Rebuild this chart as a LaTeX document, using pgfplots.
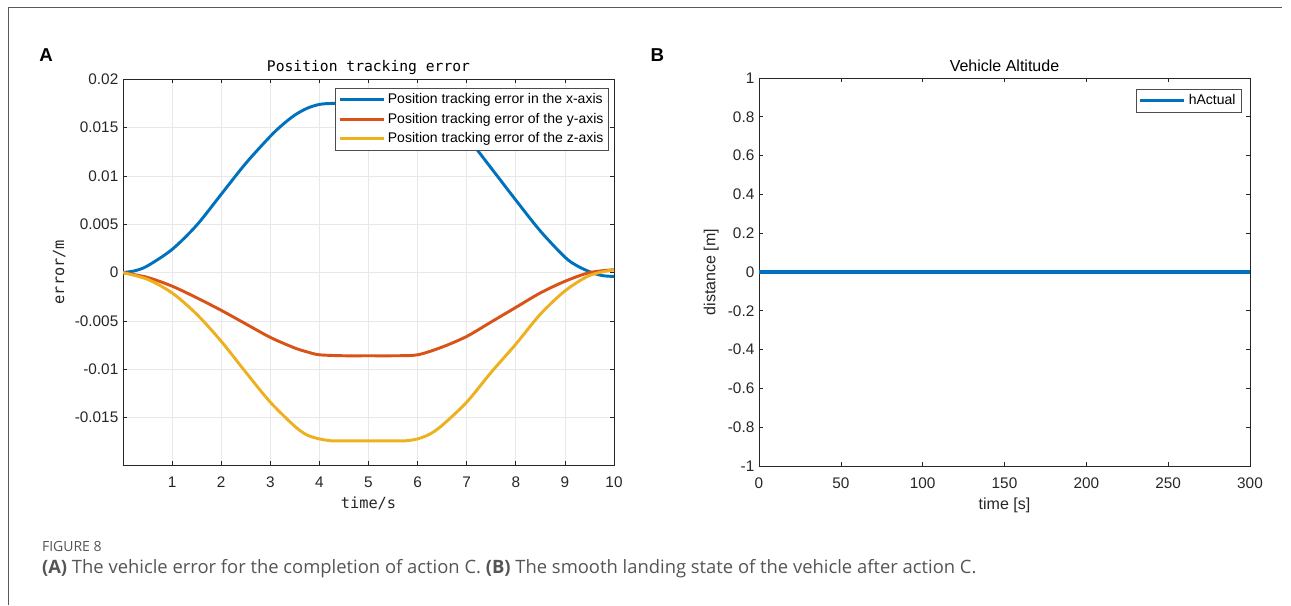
\documentclass[border=0pt]{standalone}
\usepackage{pgfplots}
\pgfplotsset{compat=1.18}
\usepackage{fontspec}
\setmainfont{Liberation Sans}
\newfontfamily\monofont{DejaVu Sans Mono}
\newfontfamily\capfont{Open Sans}
\definecolor{mblue}{rgb}{0,0.447,0.741}
\definecolor{mred}{rgb}{0.85,0.325,0.098}
\definecolor{myellow}{rgb}{0.929,0.694,0.125}
\definecolor{axgray}{rgb}{0.15,0.15,0.15}
\definecolor{capgray}{HTML}{555555}
\begin{document}
\begin{tikzpicture}
\path (0,0) rectangle (968.25pt,-453.75pt);
\draw[gray!70!black, line width=0.7pt] (6pt,-453.75pt) -- (6pt,-5.25pt) -- (961.5pt,-5.25pt);
\node[font=\fontsize{14}{16}\selectfont\bfseries] at (34.5pt,-41.25pt) {A};
\node[font=\fontsize{14}{16}\selectfont\bfseries] at (493pt,-41.25pt) {B};
\node[anchor=west, text=capgray, font=\capfont\fontsize{10.5}{12}\selectfont] at (28pt,-409.5pt) {FIGURE 8};
\node[anchor=west, text=capgray, font=\capfont\fontsize{13.8}{16}\selectfont] at (28pt,-426.5pt) {\textbf{(A)} The vehicle error for the completion of action C. \textbf{(B)} The smooth landing state of the vehicle after action C.};

\pgfplotsset{matstyle/.style={
  scale only axis,
  anchor=south west,
  axis line style={axgray, line width=0.5pt},
  tick align=inside,
  major tick length=3pt,
  tick style={axgray, line width=0.5pt},
  tick label style={font=\fontsize{11.5}{13}\selectfont, text=axgray},
  xticklabel style={yshift=-5.5pt},
  /pgf/number format/assume math mode=true,
  scaled x ticks=false, scaled y ticks=false,
  legend cell align=left,
}}

\begin{axis}[matstyle,
  at={(92.25pt,-348.75pt)}, width=368.25pt, height=289.3pt,
  xmin=0, xmax=10, ymin=-0.0199, ymax=0.02,
  xtick={1,2,3,4,5,6,7,8,9,10},
  xticklabels={1,2,3,4,5,6,7,8,9,10},
  ytick={-0.015,-0.01,-0.005,0,0.005,0.01,0.015,0.02},
  yticklabels={-0.015,-0.01,-0.005,0,0.005,0.01,0.015,0.02},
  grid=major, grid style={gray!18, line width=0.5pt},
  title={\monofont Position tracking error},
  title style={font=\fontsize{11}{13}\selectfont, yshift=-6pt},
  xlabel={\monofont time/s}, ylabel={\monofont error/m},
  label style={font=\fontsize{11.5}{13}\selectfont, text=axgray},
  xlabel style={yshift=0pt},
  legend style={at={(0.99,0.977)}, anchor=north east, font=\fontsize{10.5}{12}\selectfont,
    draw=gray!60!black, line width=0.5pt, inner sep=2pt, row sep=1.5pt},
  legend image code/.code={\draw[#1, line width=2.2pt] (0pt,0pt) -- (33pt,0pt);},
]
\addplot[mblue, line width=2.2pt, smooth] coordinates {
(0,0) (0.25,0.0002) (0.5,0.0007) (1,0.0024) (1.5,0.0049) (2,0.0081) (2.5,0.0113)
(3,0.0141) (3.25,0.0153) (3.5,0.0163) (3.75,0.0170) (4,0.0174) (4.25,0.0175) (4.5,0.0175) (5,0.0175) (5.5,0.0175) (5.75,0.0174) (6,0.0172)
(6.25,0.0168) (6.5,0.0161) (7,0.0140) (7.5,0.0108) (8,0.0075) (8.5,0.0043) (9,0.0016) (9.25,0.0007) (9.5,0.0001)
(9.75,-0.0003) (10,-0.0004)};
\addlegendentry{Position tracking error in the x-axis}
\addplot[mred, line width=2.2pt, smooth] coordinates {
(0,0) (0.5,-0.0005) (1,-0.0014) (1.5,-0.0026) (2,-0.0039) (2.5,-0.0053) (3,-0.0067)
(3.5,-0.0078) (3.75,-0.0082) (4,-0.0085) (4.5,-0.0086) (5,-0.0086) (5.5,-0.0086) (6,-0.0085)
(6.5,-0.0077) (7,-0.0066) (7.5,-0.0051) (8,-0.0036) (8.5,-0.0021) (9,-0.0009)
(9.5,0.0000) (10,0.0003)};
\addlegendentry{Position tracking error of the y-axis}
\addplot[myellow, line width=2.2pt, smooth] coordinates {
(0,0) (0.5,-0.0007) (1,-0.0021) (1.5,-0.0043) (2,-0.0071) (2.5,-0.0103) (3,-0.0134)
(3.5,-0.0159) (3.75,-0.0168) (4,-0.0172) (4.25,-0.0174) (4.5,-0.0174) (5,-0.0174) (5.5,-0.0174) (5.75,-0.0174) (6,-0.0172)
(6.25,-0.0167) (6.5,-0.0158) (7,-0.0134) (7.5,-0.0103) (8,-0.0074) (8.5,-0.0043) (9,-0.0019)
(9.5,-0.0003) (10,0.0003)};
\addlegendentry{Position tracking error of the z-axis}
\end{axis}

\begin{axis}[matstyle,
  at={(569.25pt,-349.5pt)}, width=368.25pt, height=291pt,
  xmin=0, xmax=300, ymin=-1, ymax=1,
  xtick={0,50,100,150,200,250,300},
  xticklabels={0,50,100,150,200,250,300},
  ytick={-1,-0.8,-0.6,-0.4,-0.2,0,0.2,0.4,0.6,0.8,1},
  yticklabels={-1,-0.8,-0.6,-0.4,-0.2,0,0.2,0.4,0.6,0.8,1},
  title={Vehicle Altitude},
  title style={font=\fontsize{12}{14}\selectfont, yshift=-5pt},
  xlabel={time [s]}, ylabel={distance [m]},
  label style={font=\fontsize{12}{14}\selectfont, text=axgray},
  xlabel style={yshift=0pt},
  legend style={at={(0.982,0.972)}, anchor=north east, font=\fontsize{10.5}{12}\selectfont,
    draw=gray!60!black, line width=0.5pt, inner sep=2pt},
  legend image code/.code={\draw[#1, line width=2.6pt] (0pt,0pt) -- (33pt,0pt);},
]
\addplot[mblue, line width=2.6pt] coordinates {(0,0) (300,0)};
\addlegendentry{hActual}
\end{axis}
\end{tikzpicture}
\end{document}
